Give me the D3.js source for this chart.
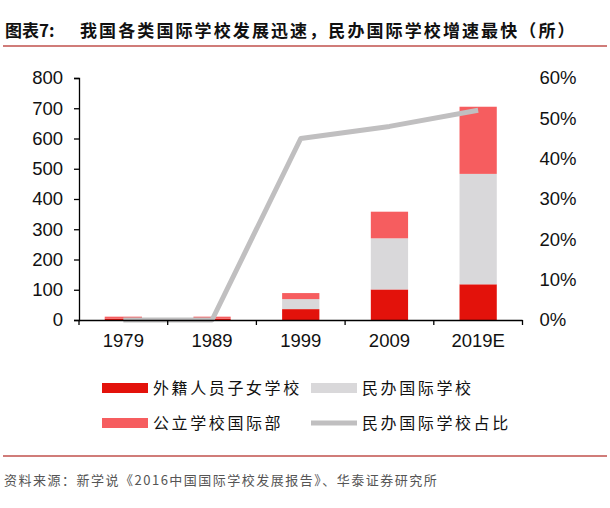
<!DOCTYPE html>
<html><head><meta charset="utf-8">
<script src="https://cdn.jsdelivr.net/npm/d3@7"></script>
<style>
body{margin:0;background:#fff;}
svg{display:block;}
</style></head>
<body><svg id="c" width="610" height="508"></svg>
<script>
const categories = ["1979","1989","1999","2009","2019E"];
const foreignSchools = [4, 4, 36, 101, 118];
const privateSchools = [0, 0, 33, 169, 365];
const publicIntl = [7, 7, 20, 88, 222];
const privateShare = [0, 0, 0.45, 0.48, 0.52];
const leftTicks = [0,100,200,300,400,500,600,700,800];
const rightTicks = [0,0.1,0.2,0.3,0.4,0.5,0.6];
const seriesNames = ["外籍人员子女学校","民办国际学校","公立学校国际部","民办国际学校占比"];
const colors = ["#e3120b","#d9d8da","#f65d5f","#c0bfc0"];

const svg = d3.select("#c");
const font = "'Liberation Sans', Arial, sans-serif";
const cjk = "'Noto Sans CJK SC', sans-serif";

// title
svg.append("text").attr("x",5).attr("y",37).attr("font-family",cjk).attr("font-weight","bold")
  .attr("font-size",17).attr("fill","#111").text("图表7:");
svg.append("text").attr("x",80).attr("y",37).attr("font-family",cjk).attr("font-weight","bold")
  .attr("font-size",17).attr("fill","#111").attr("letter-spacing",2.1).text("我国各类国际学校发展迅速，民办国际学校增速最快（所）");
svg.append("line").attr("x1",3).attr("x2",607).attr("y1",46).attr("y2",46).attr("stroke","#c0504d").attr("stroke-width",1.5);

const x0 = 79, x1 = 522.5, yTop = 78, yBot = 320;
const x = d3.scaleBand().domain(categories).range([x0,x1]).paddingInner(0.58).paddingOuter(0.29);
const y = d3.scaleLinear().domain([0,800]).range([yBot,yTop]);
const y2 = d3.scaleLinear().domain([0,0.6]).range([yBot,yTop]);

// stacked bars
const rows = categories.map((c,i)=>({cat:c, a:foreignSchools[i], b:privateSchools[i], c:publicIntl[i]}));
const stack = d3.stack().keys(["a","b","c"])(rows);
stack.forEach((layer,k)=>{
  svg.append("g").selectAll("rect").data(layer).join("rect")
    .attr("x",d=>x(d.data.cat)).attr("width",x.bandwidth())
    .attr("y",d=>y(d[1])).attr("height",d=>Math.max(0,y(d[0])-y(d[1])))
    .attr("fill",colors[k]);
});

// line
const line = d3.line().x((d,i)=>x(categories[i])+x.bandwidth()/2).y(d=>y2(d));
svg.append("path").datum(privateShare).attr("d",line).attr("fill","none")
  .attr("stroke",colors[3]).attr("stroke-width",5).attr("stroke-linejoin","round");

// left axis
const axL = svg.append("g").attr("transform",`translate(${x0},0)`)
  .call(d3.axisLeft(y).tickValues(leftTicks).tickSize(5).tickPadding(11));
axL.select(".domain").attr("stroke","#000").attr("stroke-width",1.3);
axL.selectAll(".tick line").attr("stroke","#000").attr("stroke-width",1.3);
axL.selectAll("text").attr("font-family",font).attr("font-size",18.5).attr("fill","#111");

// right axis labels (no line)
const axR = svg.append("g").attr("transform",`translate(${x1},0)`)
  .call(d3.axisRight(y2).tickValues(rightTicks).tickFormat(d3.format(".0%")).tickSize(0).tickPadding(17));
axR.select(".domain").remove();
axR.selectAll("text").attr("font-family",font).attr("font-size",18.5).attr("fill","#111");

// bottom axis
const axB = svg.append("g").attr("transform",`translate(0,${yBot})`)
  .call(d3.axisBottom(x).tickSize(0).tickPadding(14));
axB.select(".domain").remove();
axB.selectAll("text").attr("font-family",font).attr("font-size",18.5).attr("fill","#111");
svg.append("line").attr("x1",x0).attr("x2",x1).attr("y1",yBot+0.5).attr("y2",yBot+0.5).attr("stroke","#000").attr("stroke-width",1.3);
const bounds = d3.range(categories.length+1).map(i=>x0+i*(x1-x0)/categories.length);
svg.append("g").selectAll("line").data(bounds).join("line")
  .attr("x1",d=>d).attr("x2",d=>d).attr("y1",yBot).attr("y2",yBot+5).attr("stroke","#000").attr("stroke-width",1.3);

// legend
const leg = [
  {name:seriesNames[0], color:colors[0], x:102, y:388, type:"rect"},
  {name:seriesNames[1], color:colors[1], x:311, y:388, type:"rect"},
  {name:seriesNames[2], color:colors[2], x:102, y:423, type:"rect"},
  {name:seriesNames[3], color:colors[3], x:311, y:423, type:"line"}
];
leg.forEach(l=>{
  if(l.type==="rect"){
    svg.append("rect").attr("x",l.x).attr("y",l.y-5).attr("width",46).attr("height",10).attr("fill",l.color);
  } else {
    svg.append("line").attr("x1",l.x).attr("x2",l.x+46).attr("y1",l.y).attr("y2",l.y).attr("stroke",l.color).attr("stroke-width",5);
  }
  svg.append("text").attr("x",l.x+51).attr("y",l.y+6).attr("font-family",cjk).attr("font-size",16)
    .attr("fill","#111").attr("letter-spacing",2.6).text(l.name);
});

// bottom rule and source
svg.append("line").attr("x1",3).attr("x2",607).attr("y1",456).attr("y2",456).attr("stroke","#c0504d").attr("stroke-width",1.5);
svg.append("text").attr("x",4).attr("y",485).attr("font-family",cjk).attr("font-size",13)
  .attr("fill","#555").attr("letter-spacing",1.5).text("资料来源：新学说《2016中国国际学校发展报告》、华泰证券研究所");
</script></body></html>
